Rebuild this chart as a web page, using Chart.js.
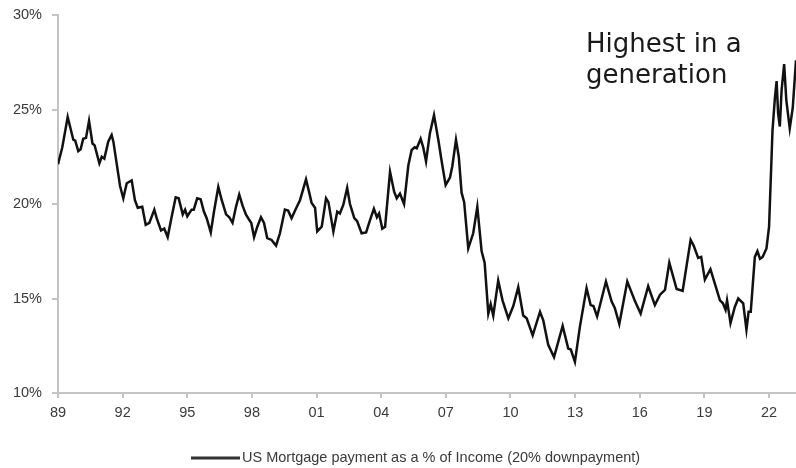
<!DOCTYPE html>
<html>
<head>
<meta charset="utf-8">
<title>US mortgage payment as a share of income</title>
<script src="https://cdn.jsdelivr.net/npm/chart.js@4.4.1/dist/chart.umd.min.js"></script>
<style>
  html, body { margin: 0; padding: 0; background: #fff; }
</style>
</head>
<body>
<canvas id="mortgageChart" width="796" height="468"></canvas>
<script>
// ------------------- DATA -------------------
// decimal year of each reading
const dates = [
  1989.00, 1989.20, 1989.45, 1989.71, 1989.80, 1989.94, 1990.05, 1990.17, 1990.30, 1990.44,
  1990.60, 1990.70, 1990.92, 1991.03, 1991.15, 1991.33, 1991.49, 1991.57, 1991.88, 1992.03,
  1992.19, 1992.42, 1992.57, 1992.70, 1992.91, 1993.07, 1993.24, 1993.47, 1993.58, 1993.78,
  1993.93, 1994.09, 1994.27, 1994.46, 1994.60, 1994.79, 1994.90, 1995.00, 1995.20, 1995.30,
  1995.46, 1995.62, 1995.77, 1995.90, 1996.09, 1996.24, 1996.44, 1996.60, 1996.80, 1996.95,
  1997.10, 1997.26, 1997.41, 1997.57, 1997.72, 1997.88, 1997.97, 1998.10, 1998.25, 1998.42,
  1998.56, 1998.71, 1998.91, 1999.12, 1999.30, 1999.53, 1999.68, 1999.84, 2000.04, 2000.23,
  2000.51, 2000.66, 2000.77, 2000.93, 2001.03, 2001.24, 2001.44, 2001.55, 2001.78, 2001.96,
  2002.08, 2002.24, 2002.42, 2002.55, 2002.75, 2002.88, 2003.09, 2003.30, 2003.48, 2003.66,
  2003.80, 2003.90, 2004.05, 2004.18, 2004.41, 2004.60, 2004.72, 2004.87, 2005.06, 2005.26,
  2005.41, 2005.55, 2005.65, 2005.83, 2005.95, 2006.08, 2006.26, 2006.45, 2006.65, 2006.80,
  2006.99, 2007.19, 2007.30, 2007.47, 2007.60, 2007.73, 2007.85, 2008.04, 2008.27, 2008.46,
  2008.66, 2008.80, 2008.97, 2009.08, 2009.20, 2009.43, 2009.63, 2009.90, 2010.13, 2010.36,
  2010.59, 2010.75, 2011.03, 2011.37, 2011.52, 2011.75, 2012.02, 2012.42, 2012.68, 2012.80,
  2012.99, 2013.22, 2013.53, 2013.72, 2013.85, 2014.02, 2014.43, 2014.69, 2014.84, 2015.05,
  2015.42, 2015.78, 2016.04, 2016.39, 2016.70, 2016.94, 2017.17, 2017.37, 2017.71, 2017.99,
  2018.36, 2018.50, 2018.71, 2018.85, 2019.02, 2019.28, 2019.48, 2019.72, 2019.86, 2019.98,
  2020.05, 2020.21, 2020.41, 2020.57, 2020.80, 2020.95, 2021.05, 2021.15, 2021.34, 2021.46,
  2021.58, 2021.70, 2021.88, 2022.00, 2022.16, 2022.27, 2022.35, 2022.42, 2022.50, 2022.58,
  2022.70, 2022.80, 2022.96, 2023.10, 2023.25
];

// mortgage payment as % of income
const payment = [
  22.1, 23.0, 24.6, 23.4, 23.35, 22.8, 22.9, 23.45, 23.5, 24.4,
  23.2, 23.1, 22.15, 22.5, 22.4, 23.3, 23.65, 23.3, 20.95, 20.3,
  21.1, 21.25, 20.2, 19.8, 19.85, 18.9, 19.0, 19.7, 19.25, 18.6,
  18.7, 18.25, 19.3, 20.35, 20.3, 19.45, 19.7, 19.35, 19.7, 19.7,
  20.3, 20.25, 19.6, 19.25, 18.5, 19.6, 20.9, 20.2, 19.45, 19.3,
  19.0, 19.85, 20.5, 19.9, 19.45, 19.15, 19.0, 18.25, 18.8, 19.3,
  19.0, 18.2, 18.1, 17.8, 18.45, 19.7, 19.65, 19.25, 19.75, 20.2,
  21.3, 20.6, 20.05, 19.8, 18.55, 18.8, 20.3, 20.1, 18.55, 19.6,
  19.5, 19.95, 20.85, 20.0, 19.25, 19.1, 18.45, 18.5, 19.15, 19.75,
  19.3, 19.5, 18.7, 18.8, 21.7, 20.65, 20.3, 20.55, 20.0, 22.05,
  22.85, 23.0, 22.95, 23.45, 23.0, 22.25, 23.75, 24.7, 23.4, 22.3,
  21.0, 21.4, 22.0, 23.4, 22.5, 20.6, 20.1, 17.65, 18.45, 19.85,
  17.5, 16.9, 14.2, 14.7, 14.1, 15.95, 14.9, 13.95, 14.6, 15.6,
  14.1, 13.95, 13.05, 14.3, 13.85, 12.55, 11.9, 13.55, 12.35, 12.3,
  11.65, 13.5, 15.55, 14.65, 14.6, 14.05, 15.9, 14.85, 14.5, 13.65,
  15.9, 14.85, 14.2, 15.65, 14.65, 15.2, 15.45, 16.9, 15.5, 15.4,
  18.1, 17.8, 17.15, 17.2, 16.0, 16.55, 15.8, 14.9, 14.75, 14.4,
  14.9, 13.7, 14.55, 15.0, 14.75, 13.35, 14.3, 14.3, 17.2, 17.5,
  17.1, 17.2, 17.65, 18.8, 23.9, 25.6, 26.5, 24.8, 24.1, 26.0,
  27.4, 25.5, 24.0, 25.1, 27.6
];

const xTickYears = [1989, 1992, 1995, 1998, 2001, 2004, 2007, 2010, 2013, 2016, 2019, 2022];
const yTickValues = [10, 15, 20, 25, 30];

const seriesLabel = "US Mortgage payment as a % of Income (20% downpayment)";
const noteLines = ["Highest in a", "generation"];

// ------------------- STYLE -------------------
const axisFont = { family: "'Liberation Sans', Arial, sans-serif", size: 14.5 };
const axisText = "#3a3a3a";
const axisLine = "#c4c4c4";

// text callout in the upper right
const notePlugin = {
  id: "note",
  afterDraw(chart) {
    const c = chart.ctx;
    c.save();
    c.font = "26px 'DejaVu Sans'";
    c.fillStyle = "#1a1a1a";
    c.textBaseline = "alphabetic";
    noteLines.forEach((line, i) => c.fillText(line, 586, 52 + i * 30.5));
    c.restore();
  }
};

// single-entry legend under the x axis: short line sample + series name
const legendPlugin = {
  id: "bottomLegend",
  afterDraw(chart) {
    const ds = chart.data.datasets[0];
    const c = chart.ctx;
    c.save();
    c.font = axisFont.size + "px " + axisFont.family;
    const lineW = 49, gap = 2;
    const textW = c.measureText(ds.label).width;
    const x0 = Math.round(416 - (lineW + gap + textW) / 2);
    const y = 458;
    c.fillStyle = "#333";
    c.fillRect(x0, y - 1.5, lineW, 3);
    c.fillStyle = axisText;
    c.textBaseline = "middle";
    c.fillText(ds.label, x0 + lineW + gap, y);
    c.restore();
  }
};

const ctx = document.getElementById("mortgageChart");

new Chart(ctx, {
  type: "line",
  data: {
    datasets: [{
      label: seriesLabel,
      data: dates.map((d, i) => ({ x: d, y: payment[i] })),
      borderColor: "#111",
      borderWidth: 2.5,
      pointRadius: 0,
      tension: 0
    }]
  },
  options: {
    responsive: false,
    animation: false,
    devicePixelRatio: 1,
    layout: { padding: { left: 8, right: 0, top: 15, bottom: 0 } },
    plugins: {
      tooltip: { enabled: false },
      legend: { display: false }
    },
    scales: {
      x: {
        type: "linear",
        min: 1989,
        max: 2023.25,
        afterBuildTicks(scale) {
          scale.ticks = xTickYears.map(v => ({ value: v }));
        },
        afterFit(scale) {
          scale.height = 75;
          scale.paddingLeft = 0;
          scale.paddingRight = 0;
        },
        grid: { drawOnChartArea: false, tickLength: 5, color: axisLine, lineWidth: 2 },
        border: { color: axisLine, width: 2 },
        ticks: {
          font: axisFont,
          color: axisText,
          padding: 6,
          maxRotation: 0,
          callback: v => String(v).slice(2)
        }
      },
      y: {
        min: 10,
        max: 30,
        afterBuildTicks(scale) {
          scale.ticks = yTickValues.map(v => ({ value: v }));
        },
        afterFit(scale) {
          scale.width = 50;
          scale.paddingTop = 0;
          scale.paddingBottom = 0;
        },
        grid: { drawOnChartArea: false, tickLength: 6, color: axisLine, lineWidth: 2 },
        border: { color: axisLine, width: 2 },
        ticks: {
          font: axisFont,
          color: axisText,
          padding: 10,
          callback: v => v + "%"
        }
      }
    }
  },
  plugins: [notePlugin, legendPlugin]
});
</script>
</body>
</html>
